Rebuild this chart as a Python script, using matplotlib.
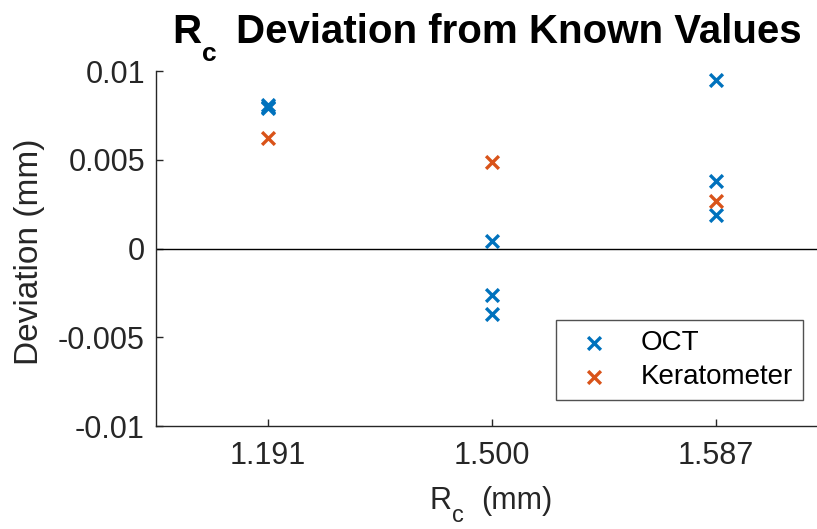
import matplotlib
matplotlib.use("Agg")
import matplotlib.pyplot as plt

plt.rcParams['font.family'] = ['Liberation Sans', 'DejaVu Sans']

categories = ["1.191", "1.500", "1.587"]
oct_x = [1, 1, 1, 2, 2, 2, 3, 3, 3]
oct_y = [0.0080, 0.0079, 0.0081, 0.0004, -0.0026, -0.0037, 0.0095, 0.0038, 0.0019]
ker_x = [1, 2, 3]
ker_y = [0.0062, 0.0049, 0.0027]
yticks = [-0.01, -0.005, 0, 0.005, 0.01]
yticklabels = ["-0.01", "-0.005", "0", "0.005", "0.01"]

W, H = 817, 529
fig = plt.figure(figsize=(W/100, H/100), dpi=100)
left, right, top, bottom = 156, 828, 71, 426
ax = fig.add_axes([left/W, 1-bottom/H, (right-left)/W, (bottom-top)/H])

ax.scatter(oct_x, oct_y, marker='x', s=85, linewidths=2.4, color='#0072BD', label='OCT', zorder=3)
ax.scatter(ker_x, ker_y, marker='x', s=85, linewidths=2.4, color='#D95319', label='Keratometer', zorder=3)
ax.axhline(0, color='black', lw=1.0, zorder=2)

ax.set_xlim(0.5, 3.5)
ax.set_ylim(-0.01, 0.01)
ax.set_xticks([1, 2, 3])
ax.set_xticklabels(categories)
ax.set_yticks(yticks)
ax.set_yticklabels(yticklabels)
for s in ['top', 'right']:
    ax.spines[s].set_visible(False)
for s in ['left', 'bottom']:
    ax.spines[s].set_color('#262626')
    ax.spines[s].set_linewidth(1.0)
ax.tick_params(direction='in', length=5, width=1.0, colors='#262626', labelsize=22, labelcolor='#262626')
ax.tick_params(axis='x', pad=11)
ax.tick_params(axis='y', pad=8)

def px(x, y):
    return x / W, 1 - y / H

# x label: R with subscript c, then (mm)
fig.text(*px(430, 509), 'R', fontsize=22, color='#262626', ha='left', va='baseline')
fig.text(*px(452, 522), 'c', fontsize=17, color='#262626', ha='left', va='baseline')
fig.text(*px(481, 509), '(mm)', fontsize=22, color='#262626', ha='left', va='baseline')

# y label
fig.text(*px(30, 252), 'Deviation (mm)', fontsize=24, color='#262626', rotation=90, ha='center', va='center')

# title
fig.text(*px(172, 43), 'R', fontsize=29, fontweight='bold', color='black', ha='left', va='baseline')
fig.text(*px(202, 61), 'c', fontsize=19, fontweight='bold', color='black', ha='left', va='baseline')
fig.text(*px(236, 43), 'Deviation from Known Values', fontsize=29, fontweight='bold', color='black', ha='left', va='baseline')

leg = ax.legend(loc='lower right', bbox_to_anchor=((803-left)/(right-left), (bottom-400)/(bottom-top)),
                borderaxespad=0, fontsize=20, frameon=True, fancybox=False, edgecolor='#262626',
                handletextpad=0.7, borderpad=0.35, labelspacing=0.3, handlelength=2.0)
leg.get_frame().set_linewidth(1.0)
for t in leg.get_texts():
    t.set_color('black')

fig.savefig('out.png', dpi=100)
